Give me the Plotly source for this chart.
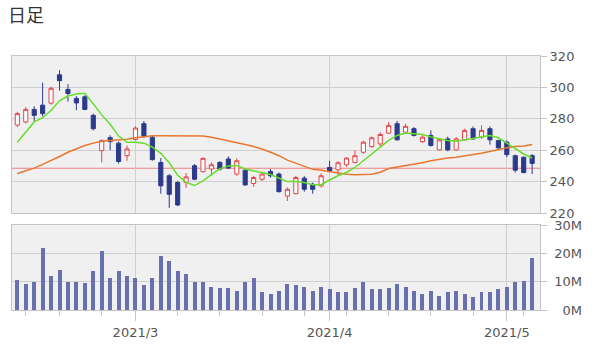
import pandas as pd
import plotly.graph_objects as go

# Trading days shown (TSE calendar, Feb 5 - May 11, 2021)
jp_holidays = ["2021-02-11", "2021-02-23", "2021-04-29", "2021-05-03", "2021-05-04", "2021-05-05"]
dates = [d for d in pd.bdate_range("2021-02-05", "2021-05-11") if d.strftime("%Y-%m-%d") not in jp_holidays]

open_ = [276, 278, 286, 288.7, 290, 308, 298.7, 293, 294, 282.2,
         259.7, 268, 264.5, 256.5, 266.8, 276.9, 268.3, 252.2, 243.7, 239.4,
         239.5, 250.1, 246.3, 248, 252.2, 254.4, 244.8, 247.3, 238.8, 241.5,
         246.5, 244.8, 230.8, 232.3, 242.2, 238.3, 237.3, 249, 247.5, 250.7,
         252.2, 258.7, 262.3, 264, 270.9, 276.9, 271.5, 273.7, 265.5, 269.4,
         260.2, 267.2, 260.2, 266.6, 273.7, 268.3, 273.7, 266.2, 265.1, 256.5,
         255.5, 256.5]
high = [284.4, 287.5, 288, 303, 300.5, 311, 302, 294.5, 295, 283.3,
        266.8, 269.5, 265.5, 263, 275.2, 278.6, 269.4, 255, 244.8, 240.5,
        245.5, 251.2, 255.5, 252.2, 253, 256.1, 254.8, 248, 243.7, 246.3,
        248, 245.8, 236.2, 243.7, 243.5, 239.4, 245.2, 253.3, 253, 255.5,
        260, 266, 268.7, 271.5, 278, 278.6, 276.9, 274.7, 269.4, 272.6,
        267.2, 268.7, 268.3, 273.7, 275.2, 275.8, 275.2, 266.6, 266.2, 257.2,
        256, 257.6]
low = [274.7, 277, 278, 281.5, 289, 298, 291, 285.5, 285.5, 272.6,
       252.2, 260, 251.5, 253.3, 266.2, 267.9, 253.3, 232.3, 223.3, 224.4,
       236, 240.9, 245.8, 243.7, 247, 248, 243.7, 237.3, 236.6, 240.4,
       242.6, 233, 227.6, 231.9, 233.6, 232.3, 236.2, 245.8, 244, 249.5,
       251.6, 257.6, 261.5, 262.3, 270.4, 266.2, 270.9, 268.7, 264.5, 262.3,
       259.7, 259.3, 259.7, 266.2, 266.6, 267.2, 263.6, 260.8, 255.5, 245.8,
       245.2, 244.8]
close = [283.3, 286, 282.2, 283.3, 299.4, 304.3, 296.1, 290.1, 286, 273.7,
         266.2, 265.5, 252.8, 260.8, 274.1, 268.7, 254, 237.3, 231.9, 225.1,
         243, 241.5, 254.8, 250.7, 248, 248.6, 253.3, 237.9, 242.6, 244.8,
         243.7, 233.6, 235.1, 242.6, 235.1, 235.1, 243.7, 246.5, 252, 255,
         256.5, 265.1, 267.9, 270, 275.8, 266.6, 275.2, 269.4, 268.3, 263,
         266.6, 260.2, 267.2, 272.6, 267.2, 272.6, 266.6, 261.5, 257.2, 247.3,
         245.8, 251.6]

# 5-day and 25-day moving averages
ma5 = [265.1, 271.5, 278, 280.7, 285.4, 291.5, 294.5, 295.8, 296.2, 289.5,
       282.5, 276.5, 269, 265, 265, 264.5, 262, 258, 252, 244,
       239.5, 237.5, 240.5, 244.5, 248.3, 250, 250.3, 248, 246.9, 245.8,
       244.5, 242.2, 240, 240, 239.4, 238, 238, 241, 243.7, 245.8,
       249, 253.3, 257.6, 261.9, 266.2, 269.4, 270.9, 270.4, 270, 268.5,
       267.2, 266.2, 265.7, 266.6, 267.2, 268.3, 269.4, 267.9, 264.5, 260.8,
       257.6, 255]
ma25 = [245.2, 247, 248.6, 251, 253.3, 256, 258.7, 261, 263, 264.5,
        265.7, 266.2, 266.6, 267, 267.9, 268.7, 269.2, 269.2, 269.2, 269.2,
        269.2, 269.2, 269, 268.3, 267.2, 266.2, 265.1, 263.6, 262.3, 260.8,
        258.7, 256.5, 253.7, 251.6, 249.5, 247.8, 247.3, 246.5, 245.5, 244.7,
        244.4, 244.4, 244.7, 246, 248.3, 249.3, 250.1, 250.8, 252, 253.3,
        254.2, 255, 255.5, 256.5, 257.2, 258, 259.3, 260.2, 261.5, 262.3,
        262.7, 263.6]
ref_price = 248.5

# Volume in millions of shares
volume_m = [10.6, 9.2, 9.8, 21.8, 12.1, 14.1, 10, 10, 9.6, 13.8,
            20.8, 11.2, 13.8, 12.1, 11.2, 8.8, 11.2, 19.2, 17.3, 13.8,
            12.7, 10, 9.8, 8.2, 7.6, 7.6, 6.7, 9.8, 11.2, 6.2,
            5.6, 6.7, 9.2, 8.8, 8.2, 6.7, 8.2, 7.4, 6.2, 6.2,
            7.6, 9.8, 7.3, 7.3, 7.6, 9.2, 8.2, 6.7, 5.8, 6.7,
            5.1, 6.2, 6.7, 5.8, 4.7, 6.2, 6.2, 7.3, 8.2, 9.8,
            10.2, 18.2]

price_ticks = [220, 240, 260, 280, 300, 320]
volume_ticks = [0, 10, 20, 30]

idx = list(range(len(dates)))
month_idx = [i for i in idx if i > 0 and dates[i].month != dates[i - 1].month]
month_text = [f"{dates[i].year}/{dates[i].month}" for i in month_idx]
monday_idx = [i for i in idx if dates[i].weekday() == 0 and i not in month_idx]

RED = "#e2474b"
BLUE = "#2c3a8c"
VOL = "#6970b0"
GREEN = "#66dd2a"
ORANGE = "#e8772e"
REFLINE = "#f08080"
PANEL = "#f0f0f0"
GRID = "#cfcfcf"
BORDER = "#c4c4c4"
TXT = "#555555"
FONT = "DejaVu Sans"

fig = go.Figure()

fig.add_trace(go.Candlestick(
    x=idx, open=open_, high=high, low=low, close=close,
    increasing=dict(line=dict(color=RED, width=1), fillcolor="#ffffff"),
    decreasing=dict(line=dict(color=BLUE, width=1), fillcolor=BLUE),
    whiskerwidth=0, xaxis="x", yaxis="y", showlegend=False, hoverinfo="skip",
))
fig.add_trace(go.Scatter(x=idx, y=ma25, mode="lines", line=dict(color=ORANGE, width=1.5),
                         xaxis="x", yaxis="y", showlegend=False, hoverinfo="skip"))
fig.add_trace(go.Scatter(x=idx, y=ma5, mode="lines", line=dict(color=GREEN, width=1.5),
                         xaxis="x", yaxis="y", showlegend=False, hoverinfo="skip"))

fig.add_trace(go.Bar(x=idx, y=volume_m, width=0.47, marker=dict(color=VOL, line=dict(width=0)),
                     xaxis="x2", yaxis="y2", showlegend=False, hoverinfo="skip"))
# invisible carrier for the right-aligned volume labels
fig.add_trace(go.Scatter(x=[idx[0]], y=[volume_ticks[0]], mode="markers", marker=dict(opacity=0),
                         xaxis="x2", yaxis="y3", showlegend=False, hoverinfo="skip"))

fig.add_shape(type="line", xref="x domain", x0=0, x1=1, yref="y", y0=ref_price, y1=ref_price,
              line=dict(color=REFLINE, width=1), layer="below")

x_end = 528 / 570
xrange = [-0.63, len(idx) - 1 + 0.93]

fig.update_layout(
    width=600, height=348,
    margin=dict(l=12, r=18, t=56, b=38, autoexpand=False),
    paper_bgcolor="white", plot_bgcolor=PANEL,
    font=dict(family=FONT, size=13, color=TXT),
    title=dict(text="日足", x=8 / 600, xref="container", xanchor="left",
               y=1 - 16 / 348, yref="container", yanchor="middle",
               font=dict(family="Noto Sans CJK JP", size=18, color="#333333")),
    bargap=0,
    xaxis=dict(domain=[0, x_end], anchor="y", range=xrange, tickvals=month_idx,
               showticklabels=False, ticks="", showgrid=True, gridcolor=GRID, gridwidth=1,
               showline=True, linecolor=BORDER, mirror=True, zeroline=False, automargin=False,
               rangeslider=dict(visible=False)),
    yaxis=dict(domain=[97 / 254, 1], anchor="x", range=[price_ticks[0], price_ticks[-1]],
               tickvals=price_ticks, side="right", ticks="outside", ticklen=6, tickcolor=BORDER,
               showgrid=True, gridcolor=GRID, gridwidth=1, showline=True, linecolor=BORDER,
               mirror=True, zeroline=False, automargin=False,
               tickfont=dict(family=FONT, size=13, color=TXT)),
    xaxis2=dict(domain=[0, x_end], anchor="y2", matches="x", range=xrange,
                tickvals=month_idx, ticktext=month_text, ticks="outside", ticklen=10,
                tickcolor=BORDER, showgrid=True, gridcolor=GRID, gridwidth=1,
                showline=True, linecolor=BORDER, mirror=True, zeroline=False, automargin=False,
                tickfont=dict(family=FONT, size=13, color=TXT),
                minor=dict(tickmode="array", tickvals=monday_idx, ticks="outside",
                           ticklen=5, tickcolor=BORDER, showgrid=False)),
    yaxis2=dict(domain=[0, 85 / 254], anchor="x2", range=[volume_ticks[0], volume_ticks[-1]],
                tickvals=volume_ticks, side="right", ticks="outside", ticklen=6, tickcolor=BORDER,
                showticklabels=False, showgrid=True, gridcolor=GRID, gridwidth=1,
                showline=True, linecolor=BORDER, mirror=True, zeroline=False, automargin=False),
    yaxis3=dict(overlaying="y2", anchor="free", position=1.0, side="left",
                range=[volume_ticks[0], volume_ticks[-1]], tickvals=volume_ticks,
                ticktext=[f"{v}M" for v in volume_ticks], ticks="", showgrid=False,
                showline=False, zeroline=False, automargin=False,
                tickfont=dict(family=FONT, size=13, color=TXT)),
)

fig.write_html("out.html")
